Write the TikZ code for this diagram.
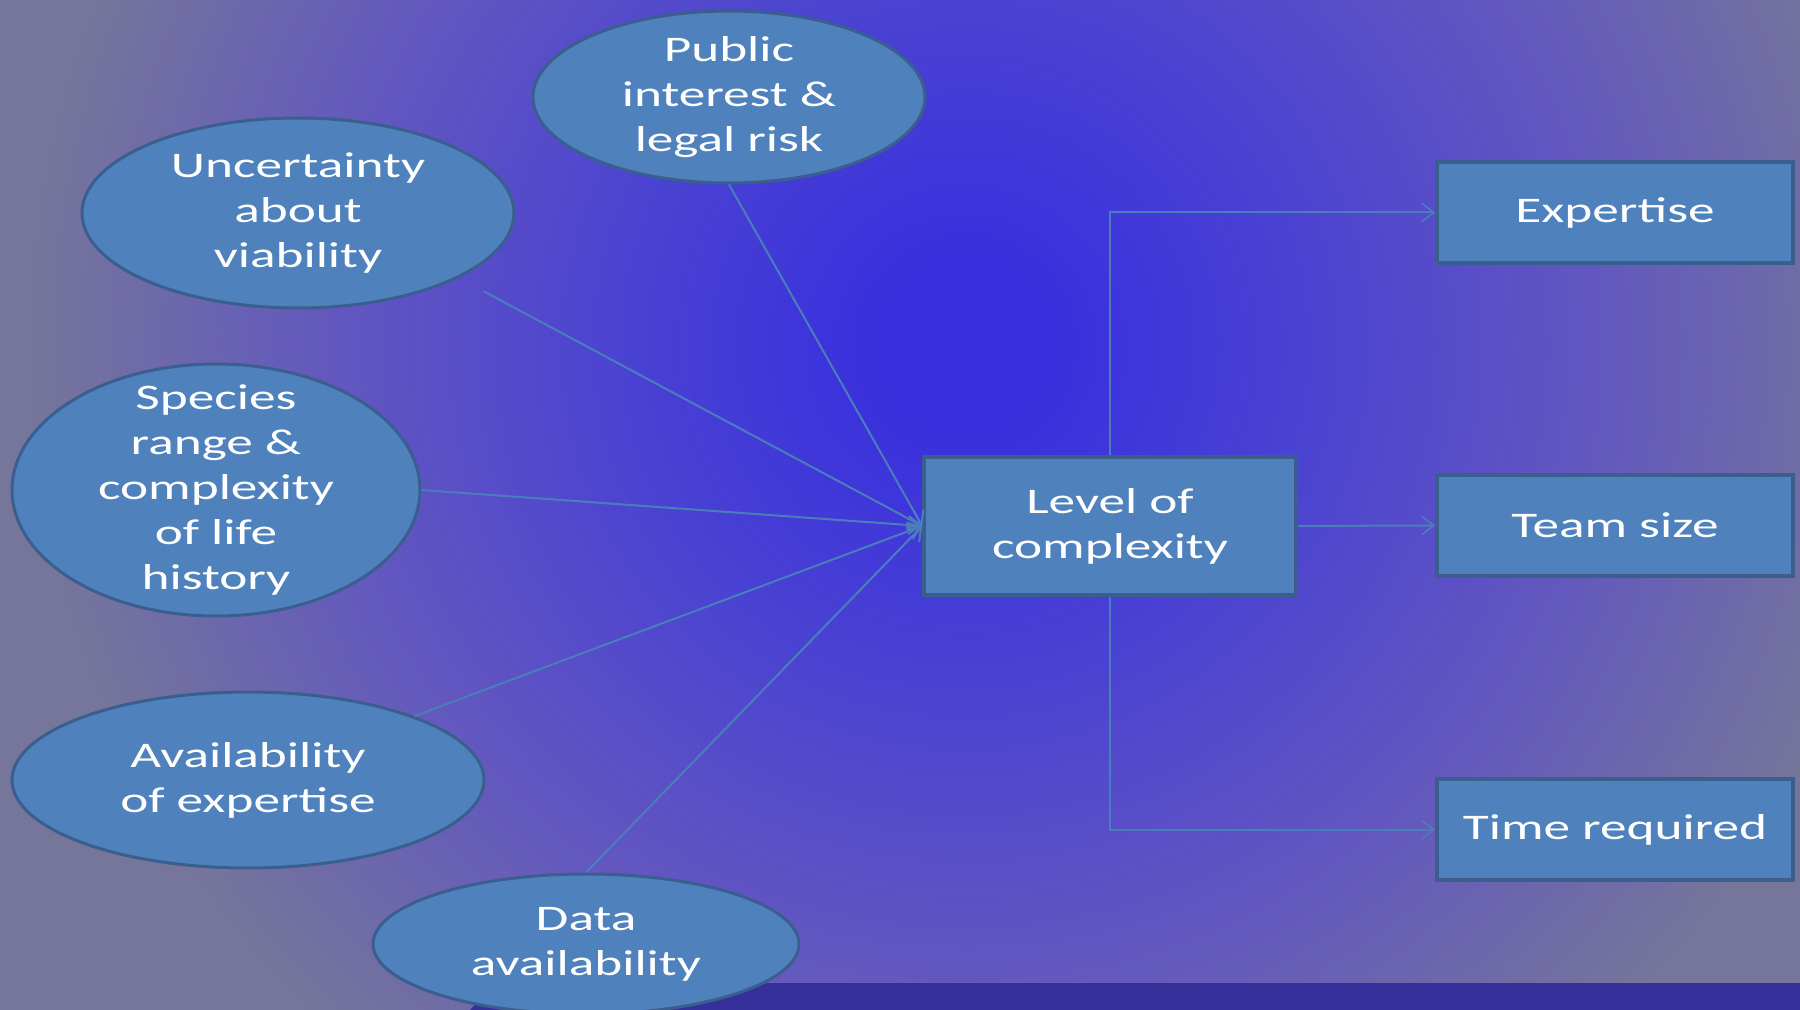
\documentclass[tikz,border=0pt]{standalone}
\usepackage{fontspec}
\setmainfont[FakeStretch=1.48]{Carlito}
\usetikzlibrary{shapes.geometric,arrows.meta}
\definecolor{bgc}{HTML}{382FDE}
\definecolor{bga}{HTML}{4A42D2}
\definecolor{bgm}{HTML}{6256C0}
\definecolor{bgo}{HTML}{76769A}
\definecolor{strip}{HTML}{35309A}
\definecolor{nodefill}{HTML}{4F81BD}
\definecolor{nodeedge}{HTML}{3A5F8F}
\definecolor{linkc}{HTML}{4A7EBB}
\pgfdeclareradialshading{bgshade}{\pgfpoint{0bp}{0bp}}{color(0bp)=(bgc); color(2bp)=(bgc); color(8.5bp)=(bga); color(15.5bp)=(bgm); color(23.5bp)=(bgo); color(50bp)=(bgo)}
\tikzset{
  oval/.style={ellipse, draw=nodeedge, line width=1.5pt, fill=nodefill, text=white, align=center, inner sep=0pt, font=\fontsize{18pt}{22.5pt}\selectfont},
  box/.style={rectangle, draw=nodeedge, line width=1.8pt, fill=nodefill, text=white, align=center, inner sep=0pt, font=\fontsize{18pt}{22.5pt}\selectfont},
  link/.style={draw=linkc, line width=1pt},
  inarrow/.style={link, -{Straight Barb[length=6pt,width=9pt,line width=1pt]}},
  outarrow/.style={link, -{Straight Barb[length=6pt,width=9pt,line width=0.8pt]}}
}
\begin{document}
\begin{tikzpicture}[x=0.5pt,y=-0.5pt]
\useasboundingbox (0,0) rectangle (1800,1010);
\begin{scope}
\clip (0,0) rectangle (1800,1010);
\shade[shading=bgshade] (-35,-655) rectangle (1965,1345);
\end{scope}
\fill[strip] (470,1010) -- (495,983) -- (1800,983) -- (1800,1010) -- cycle;

\node[oval, minimum width=196pt, minimum height=86pt] (pub) at (729,97) {Public\\interest \&\\legal risk};
\node[oval, minimum width=216pt, minimum height=95pt] (unc) at (298,213) {Uncertainty\\about\\viability};
\node[oval, minimum width=204pt, minimum height=126pt, inner ysep=-15pt] (spe) at (216,490) {Species\\range \&\\complexity\\of life\\history};
\node[oval, minimum width=236pt, minimum height=88pt] (ava) at (248,780) {Availability\\of expertise};
\node[oval, minimum width=213pt, minimum height=70pt] (dat) at (586,944) {Data\\availability};

\node[box, minimum width=186pt, minimum height=69pt] (loc) at (1110,526) {Level of\\complexity};
\node[box, minimum width=178pt, minimum height=50.5pt] (exp) at (1615,212.5) {Expertise};
\node[box, minimum width=178pt, minimum height=50.5pt] (team) at (1615,525.5) {Team size};
\node[box, minimum width=178pt, minimum height=50.5pt] (time) at (1615,829.5) {Time required};

\draw[inarrow] (pub.south) -- (loc.west);
\draw[inarrow, shorten <=14pt] (unc.-22) -- (loc.west);
\draw[inarrow] (spe.east) -- (loc.west);
\draw[inarrow] (ava.21) -- (loc.west);
\draw[inarrow] (dat.north) -- (loc.west);

\draw[outarrow] (loc.north) |- (exp.west);
\draw[outarrow] (loc.east) -- (team.west);
\draw[outarrow] (loc.south) |- (time.west);
\end{tikzpicture}
\end{document}
